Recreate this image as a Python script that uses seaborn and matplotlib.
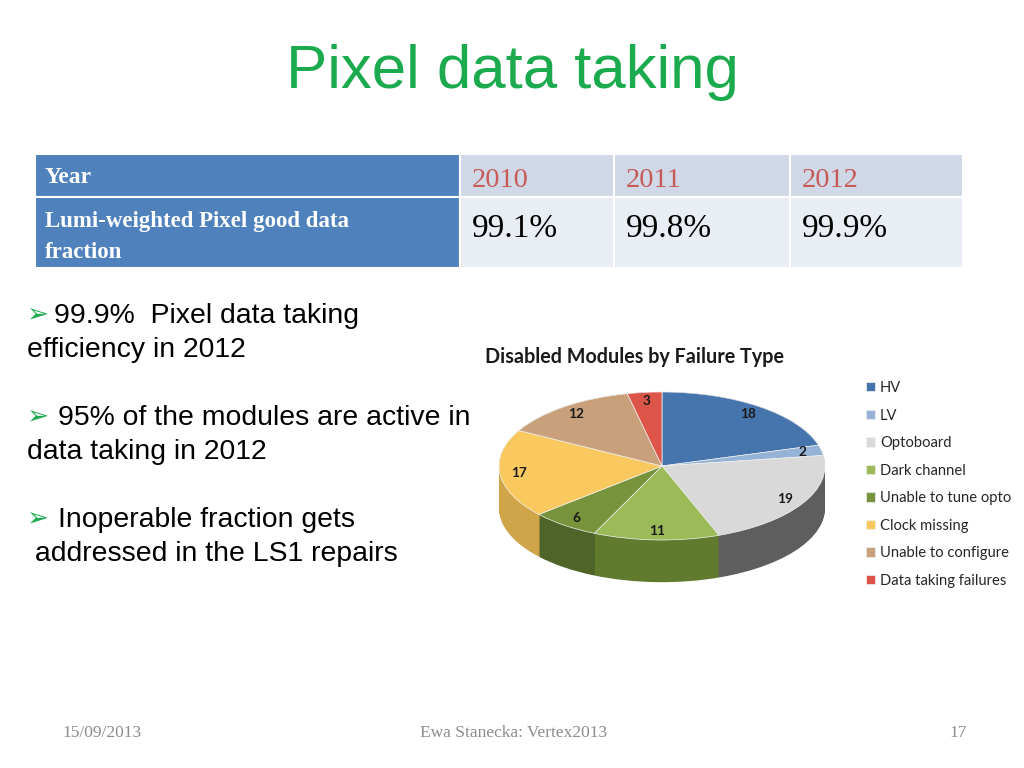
import numpy as np
import matplotlib
matplotlib.use("Agg")
import matplotlib.pyplot as plt
from matplotlib.patches import Rectangle
import seaborn as sns

# --- data ---------------------------------------------------------------
title = "Pixel data taking"
table_header = "Year"
table_row_label = ["Lumi-weighted Pixel good data", "fraction"]
years = ["2010", "2011", "2012"]
good_fraction = ["99.1%", "99.8%", "99.9%"]

bullet_lines = [
    (True, "99.9%  Pixel data taking"),
    (False, "efficiency in 2012"),
    (True, "95% of the modules are active in"),
    (False, "data taking in 2012"),
    (True, "Inoperable fraction gets"),
    (False, " addressed in the LS1 repairs"),
]

pie_title = "Disabled Modules by Failure Type"
failure_types = ["HV", "LV", "Optoboard", "Dark channel", "Unable to tune opto",
                 "Clock missing", "Unable to configure", "Data taking failures"]
disabled_modules = [18, 2, 19, 11, 6, 17, 12, 3]

footer = ["15/09/2013", "Ewa Stanecka: Vertex2013", "17"]

# --- style --------------------------------------------------------------
top_colors = sns.color_palette(["#4674AC", "#95B3D7", "#D9D9D9", "#9BBB59",
                                "#77933C", "#F9C85E", "#C9A07C", "#DD5548"])
side_colors = sns.color_palette(["#2F5282", "#6F8FB5", "#5E5E5E", "#607A2E",
                                 "#4F6428", "#D0A448", "#9C7857", "#A83A30"])
green = "#1BAA4E"
serif = ["Liberation Serif", "DejaVu Serif"]
calibri = ["Lato", "DejaVu Sans"]

sns.set_theme(style="white")
plt.rcParams["font.family"] = ["Liberation Sans", "DejaVu Sans"]

fig = plt.figure(figsize=(10.24, 7.68), dpi=100)
fig.patch.set_facecolor("white")

# slide layer in pixel coordinates
bg = fig.add_axes([0, 0, 1, 1])
bg.set_xlim(0, 1024)
bg.set_ylim(768, 0)
bg.axis("off")

bg.text(512, 88, title, ha="center", va="baseline", fontsize=44.5, color=green)

# table
col_edges = [35, 460, 614, 790, 963]
row_edges = [154, 197, 268]
for r in range(2):
    for c in range(4):
        if c == 0:
            fc = "#4F81BD"
        else:
            fc = "#D0D8E8" if r == 0 else "#E9EDF4"
        bg.add_patch(Rectangle((col_edges[c], row_edges[r]),
                               col_edges[c + 1] - col_edges[c],
                               row_edges[r + 1] - row_edges[r],
                               facecolor=fc, edgecolor="white", lw=1.5))

bg.text(45, 183, table_header, family=serif, fontweight="bold", fontsize=17,
        color="white", va="baseline")
for i, line in enumerate(table_row_label):
    bg.text(45, 227 + 31 * i, line, family=serif, fontweight="bold",
            fontsize=16.5, color="white", va="baseline")
for c, (yr, frac) in enumerate(zip(years, good_fraction)):
    x = col_edges[c + 1] + 12
    bg.text(x, 187, yr, family=serif, fontsize=20.5, color="#C65A57",
            va="baseline")
    bg.text(x, 237, frac, family=serif, fontsize=24, color="black",
            va="baseline")

# bullets
y = 323
for k, (arrow, line) in enumerate(bullet_lines):
    if arrow:
        bg.text(26, y - 8, "\u27A2", family=["DejaVu Sans"], fontsize=19,
                color=green, va="center")
        bg.text(54 + (4 if k else 0), y, line, fontsize=20.4, color="black",
                va="baseline")
    else:
        bg.text(27, y, line, fontsize=20.4, color="black", va="baseline")
    y += 34 if k % 2 == 0 else 68

# footer
bg.text(62, 733, footer[0], family=serif, fontsize=12.5, color="#8C8C8C",
        va="center")
bg.text(420, 733, footer[1], family=serif, fontsize=12.5, color="#8C8C8C",
        va="center")
bg.text(967, 733, footer[2], family=serif, fontsize=12.5, color="#8C8C8C",
        va="center", ha="right")

# pie chart title
bg.text(485, 363, pie_title, family=calibri, fontweight="bold", fontsize=14.2,
        color="#1A1A1A", va="baseline")

# --- 3D-looking pie -----------------------------------------------------
cx, cy, a, b = 662, 466, 163, 74
xr, yr0, yr1 = 1.3, -1.9, 1.3
pie_ax = fig.add_axes([(cx - xr * a) / 1024, (768 - cy + yr0 * b) / 768,
                       2 * xr * a / 1024, (yr1 - yr0) * b / 768])
depth = 0.57
total = sum(disabled_modules)
for d in np.linspace(depth, 0.0, 50):
    pie_ax.pie(disabled_modules, colors=side_colors, startangle=90,
               counterclock=False, center=(0, -d),
               wedgeprops=dict(linewidth=0, antialiased=True))
wedges, _, autotexts = pie_ax.pie(
    disabled_modules, colors=top_colors, startangle=90, counterclock=False,
    autopct=lambda p: f"{p * total / 100:.0f}", pctdistance=0.88,
    wedgeprops=dict(linewidth=0.5, edgecolor="#F2F2F2"),
    textprops=dict(family=calibri, fontweight="bold", fontsize=9.8,
                   color="#1A1A1A"))
pie_ax.set_aspect("auto")
pie_ax.set_xlim(-xr, xr)
pie_ax.set_ylim(yr0, yr1)
pie_ax.axis("off")

fig.legend(wedges, failure_types, loc="upper left",
           bbox_to_anchor=(866 / 1024, 1 - 381 / 768),
           bbox_transform=fig.transFigure, frameon=False,
           prop=dict(family=calibri, size=10.6), labelcolor="#262626",
           handlelength=0.6, handleheight=0.6, handletextpad=0.35,
           labelspacing=0.92, borderpad=0, borderaxespad=0)

fig.savefig("out.png", dpi=100, facecolor="white")
